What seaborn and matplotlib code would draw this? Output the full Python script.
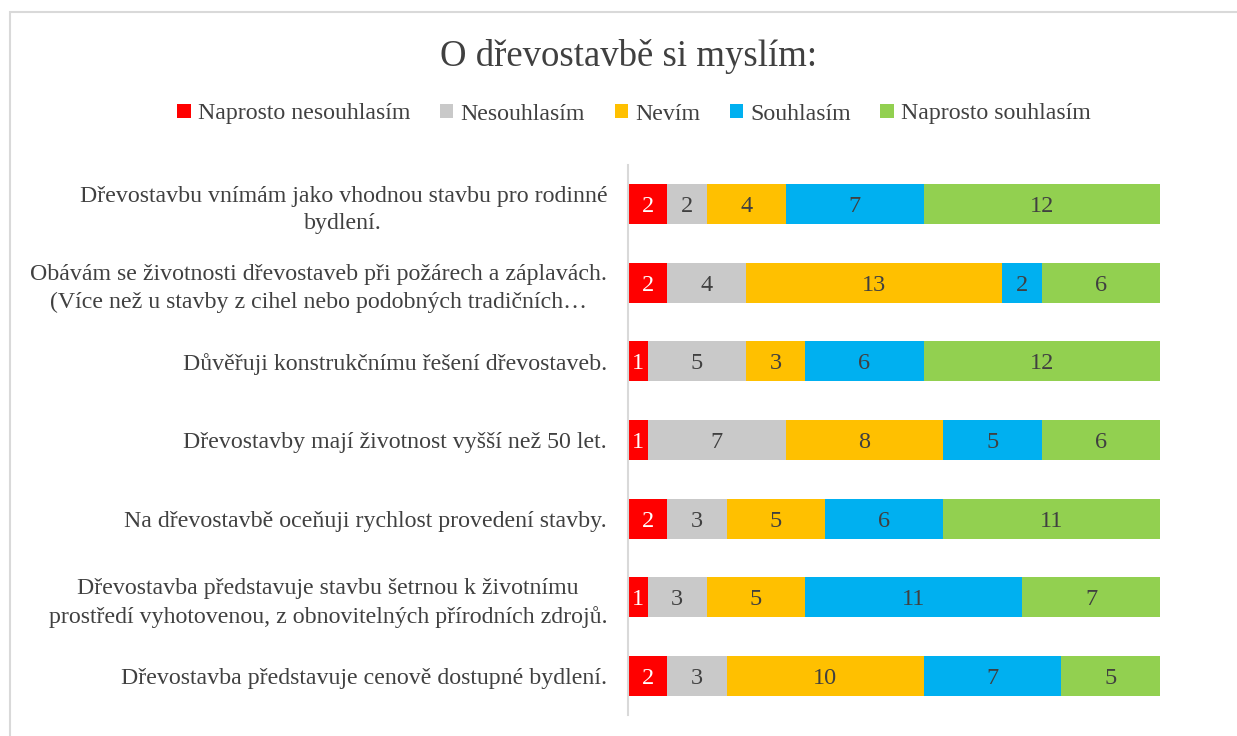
#!/usr/bin/env python3
import numpy as np
import pandas as pd
import matplotlib
matplotlib.use("Agg")
import matplotlib.pyplot as plt
import seaborn as sns
from matplotlib.patches import Patch, Rectangle

# Data
statements = [
    "Dřevostavbu vnímám jako vhodnou stavbu pro rodinné\nbydlení.",
    "Obávám se životnosti dřevostaveb při požárech a záplavách.\n(Více než u stavby z cihel nebo podobných tradičních…",
    "Důvěřuji konstrukčnímu řešení dřevostaveb.",
    "Dřevostavby mají životnost vyšší než 50 let.",
    "Na dřevostavbě oceňuji rychlost provedení stavby.",
    "Dřevostavba představuje stavbu šetrnou k životnímu\nprostředí vyhotovenou, z obnovitelných přírodních zdrojů.",
    "Dřevostavba představuje cenově dostupné bydlení.",
]
answers = ["Naprosto nesouhlasím", "Nesouhlasím", "Nevím", "Souhlasím", "Naprosto souhlasím"]
naprosto_nesouhlasim = [2, 2, 1, 1, 2, 1, 2]
nesouhlasim = [2, 4, 5, 7, 3, 3, 3]
nevim = [4, 13, 3, 8, 5, 5, 10]
souhlasim = [7, 2, 6, 5, 6, 11, 7]
naprosto_souhlasim = [12, 6, 12, 6, 11, 7, 5]

colors = ["#FF0000", "#C9C9C9", "#FFC000", "#00B0F0", "#92D050"]
label_colors = ["white", "#404040", "#404040", "#404040", "#404040"]

df = pd.DataFrame({
    "statement": statements,
    answers[0]: naprosto_nesouhlasim,
    answers[1]: nesouhlasim,
    answers[2]: nevim,
    answers[3]: souhlasim,
    answers[4]: naprosto_souhlasim,
})
cum = df[answers].cumsum(axis=1)

sns.set_theme(style="white")
plt.rcParams['font.family'] = ['Liberation Serif', 'DejaVu Serif']

fig = plt.figure(figsize=(12.37, 7.36), dpi=100)
ax = fig.add_axes([628 / 1237, 1 - 715 / 736, (1160 - 628) / 1237, (715 - 165) / 736])

# stacked bars: draw cumulative totals back to front
for i in reversed(range(len(answers))):
    sns.barplot(x=cum[answers[i]], y=df["statement"], color=colors[i],
                width=0.51, saturation=1, linewidth=0, ax=ax)

# value labels in the middle of each segment
for i, ans in enumerate(answers):
    starts = cum[ans] - df[ans]
    for j, v in enumerate(df[ans]):
        ax.text(starts[j] + v / 2, j, str(v), ha="center", va="center_baseline",
                fontsize=17.5, color=label_colors[i])

ax.set_xlim(0, 27)
ax.set_ylim(6.5, -0.5)
ax.set_xlabel("")
ax.set_ylabel("")
ax.set_xticks([])
for s in ["top", "right", "bottom"]:
    ax.spines[s].set_visible(False)
ax.spines["left"].set_color("#D9D9D9")
ax.spines["left"].set_linewidth(1.5)
ax.tick_params(axis="y", length=0, pad=15, labelsize=17.2, labelcolor="#404040")
for lbl in ax.get_yticklabels():
    lbl.set_multialignment("center")
    lbl.set_linespacing(1.4)

fig.text(629 / 1237, 1 - 56 / 736, "O dřevostavbě si myslím:", ha="center", va="center",
         fontsize=26.5, color="#404040")

handles = [Patch(facecolor=c, edgecolor="none") for c in colors]
fig.legend(handles, answers, loc="center", bbox_to_anchor=(634 / 1237, 1 - 114 / 736),
           ncol=5, frameon=False, fontsize=17.2, handlelength=0.55, handleheight=0.55,
           handletextpad=0.3, columnspacing=1.25, labelcolor="#404040")

# outer chart frame (cut off on the right and bottom)
fig.patches.append(Rectangle((10 / 1237, -0.1), 1.2, 1.1 - 12 / 736, transform=fig.transFigure,
                             fill=False, edgecolor="#D9D9D9", linewidth=1.5))

fig.savefig("out.png", dpi=100)
